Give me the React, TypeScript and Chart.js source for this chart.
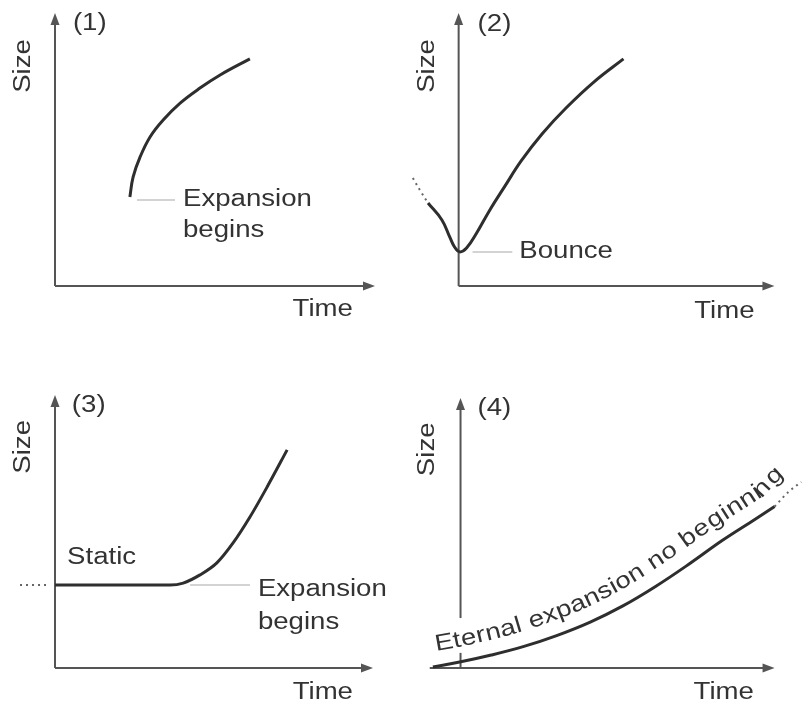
import React, { useEffect, useRef } from "react";
import { Chart, registerables } from "chart.js";

Chart.register(...registerables);

// ---------- data (time, size) in each panel's own units: axes run 0..10 ----------
// Panel 1: expansion with a beginning
const p1Time = [2.34, 2.44, 2.66, 2.97, 3.38, 3.91, 4.53, 5.16, 6.09];
const p1Size = [3.26, 3.99, 4.73, 5.46, 6.08, 6.7, 7.25, 7.73, 8.32];

// Panel 2: bounce
const p2PastTime = [-1.45, -1.23, -0.97];
const p2PastSize = [3.96, 3.52, 3.04];
const p2Time = [-0.97, -0.53, -0.28, -0.13, 0.03, 0.25, 0.57, 0.97, 1.45, 1.98, 2.64, 3.4, 4.28, 5.22];
const p2Size = [3.04, 2.42, 1.79, 1.43, 1.25, 1.39, 1.94, 2.75, 3.63, 4.58, 5.57, 6.52, 7.47, 8.32];

// Panel 3: static, then expansion
const p3PastTime = [-1.1, -0.16];
const p3PastSize = [3.04, 3.04];
const p3Time = [0, 1.5, 3.0, 3.62, 4.03, 4.56, 5.09, 5.6, 6.13, 6.67, 7.3];
const p3Size = [3.04, 3.04, 3.04, 3.04, 3.11, 3.41, 3.85, 4.58, 5.53, 6.63, 7.99];

// Panel 4: eternal expansion
const p4Time = [-0.88, -0.03, 0.98, 2.02, 3.06, 4.13, 5.17, 6.21, 7.29, 8.33, 9.37, 10.0];
const p4Size = [0.04, 0.22, 0.48, 0.8, 1.2, 1.7, 2.3, 3.02, 3.86, 4.72, 5.5, 5.98];
const p4FutureTime = [10.0, 10.44, 10.85];
const p4FutureSize = [5.98, 6.52, 6.89];

// ---------- text ----------
const panelTitles = ["(1)", "(2)", "(3)", "(4)"];
const yAxisLabel = "Size";
const xAxisLabel = "Time";
const expansionLabel = ["Expansion", "begins"];
const bounceLabel = "Bounce";
const staticLabel = "Static";
const eternalLabel = "Eternal expansion no beginning";

// ---------- style / layout ----------
const W = 806;
const H = 707;
const X_MIN = -1.6;
const X_MAX = 11;
const SX = 1.2;
const FONT = '23px "Liberation Sans", Arial, sans-serif';
const TEXT_COLOR = "#333";
const AXIS_COLOR = "#555";
const CURVE_COLOR = "#2e2e2e";
const LEADER_COLOR = "#c4c4c4";

// axis box of each panel: origin pixel and arrow tips (page pixels)
const boxes = [
  { ox: 55, oy: 286, tx: 375, ty: 13 },
  { ox: 459, oy: 286, tx: 777, ty: 13 },
  { ox: 55, oy: 668, tx: 373, ty: 395 },
  { ox: 461, oy: 668, tx: 778, ty: 398 },
];

function paddingFor(b: { ox: number; oy: number; tx: number; ty: number }) {
  const ux = (b.tx - b.ox) / 10;
  const left = b.ox + X_MIN * ux;
  const right = b.ox + X_MAX * ux;
  return { left, right: W - right, top: b.ty, bottom: H - b.oy };
}

const pts = (xs: number[], ys: number[]) => xs.map((x, i) => ({ x, y: ys[i] }));

const solid = (xs: number[], ys: number[], mono = false) => ({
  data: pts(xs, ys),
  borderColor: CURVE_COLOR,
  borderWidth: 3,
  pointRadius: 0,
  cubicInterpolationMode: mono ? "monotone" : "default",
  tension: 0.4,
  fill: false,
  clip: false,
});

const dotted = (xs: number[], ys: number[]) => ({
  data: pts(xs, ys),
  borderColor: "#666",
  borderWidth: 2,
  borderDash: [2, 4],
  pointRadius: 0,
  cubicInterpolationMode: "monotone",
  fill: false,
  clip: false,
});

function drawLabel(ctx: CanvasRenderingContext2D, text: string, x: number, y: number, align: CanvasTextAlign = "left", rot = 0) {
  ctx.save();
  ctx.translate(x, y);
  ctx.rotate(rot);
  ctx.scale(SX, 1);
  ctx.font = FONT;
  ctx.fillStyle = TEXT_COLOR;
  ctx.textBaseline = "middle";
  ctx.textAlign = align;
  ctx.fillText(text, 0, 0);
  ctx.restore();
}

function samplePath(chart: any, idxs: number[]) {
  const out: { x: number; y: number }[] = [];
  idxs.forEach((i) => {
    const els = chart.getDatasetMeta(i).data as any[];
    for (let k = 0; k < els.length - 1; k++) {
      const a = els[k];
      const b = els[k + 1];
      const c1x = a.cp2x ?? a.x, c1y = a.cp2y ?? a.y;
      const c2x = b.cp1x ?? b.x, c2y = b.cp1y ?? b.y;
      for (let s = 0; s <= 40; s++) {
        const t = s / 40, u = 1 - t;
        out.push({
          x: u * u * u * a.x + 3 * u * u * t * c1x + 3 * u * t * t * c2x + t * t * t * b.x,
          y: u * u * u * a.y + 3 * u * u * t * c1y + 3 * u * t * t * c2y + t * t * t * b.y,
        });
      }
    }
  });
  return out;
}

const diagramPlugin = {
  id: "diagram",
  beforeDatasetsDraw(chart: any, _a: any, opts: any) {
    const { ctx } = chart;
    const px = (v: number) => chart.scales.x.getPixelForValue(v);
    const py = (v: number) => chart.scales.y.getPixelForValue(v);
    ctx.save();
    ctx.strokeStyle = AXIS_COLOR;
    ctx.fillStyle = AXIS_COLOR;
    ctx.lineWidth = 2;
    const ox = px(0), oy = py(0);
    const tipX = px(10), tipY = py(10);
    const AL = 12, AW = 4.5;
    (opts.ySegments || [[0, 10]]).forEach((seg: number[]) => {
      ctx.beginPath();
      ctx.moveTo(ox, py(seg[0]));
      ctx.lineTo(ox, seg[1] >= 10 ? tipY + AL - 2 : py(seg[1]));
      ctx.stroke();
    });
    ctx.beginPath();
    ctx.moveTo(ox, tipY);
    ctx.lineTo(ox - AW, tipY + AL);
    ctx.lineTo(ox + AW, tipY + AL);
    ctx.closePath();
    ctx.fill();
    ctx.beginPath();
    ctx.moveTo(px(opts.xFrom ?? 0), oy);
    ctx.lineTo(tipX - AL + 2, oy);
    ctx.stroke();
    ctx.beginPath();
    ctx.moveTo(tipX, oy);
    ctx.lineTo(tipX - AL, oy - AW);
    ctx.lineTo(tipX - AL, oy + AW);
    ctx.closePath();
    ctx.fill();
    ctx.strokeStyle = LEADER_COLOR;
    ctx.lineWidth = 1.5;
    (opts.leaders || []).forEach((l: number[]) => {
      ctx.beginPath();
      ctx.moveTo(px(l[0]), py(l[2]));
      ctx.lineTo(px(l[1]), py(l[2]));
      ctx.stroke();
    });
    ctx.restore();
  },
  afterDatasetsDraw(chart: any, _a: any, opts: any) {
    const { ctx } = chart;
    const px = (v: number) => chart.scales.x.getPixelForValue(v);
    const py = (v: number) => chart.scales.y.getPixelForValue(v);
    (opts.texts || []).forEach((t: any) => {
      drawLabel(ctx, t.text, px(t.x), py(t.y), t.align || "left", t.rot || 0);
    });
    const ct = opts.curvedText;
    if (ct) {
      const path = samplePath(chart, ct.datasets);
      const cum = [0];
      for (let i = 1; i < path.length; i++) {
        cum.push(cum[i - 1] + Math.hypot(path[i].x - path[i - 1].x, path[i].y - path[i - 1].y));
      }
      const at = (s: number) => {
        let i = 1;
        while (i < cum.length - 1 && cum[i] < s) i++;
        const a = path[i - 1];
        let b = path[i];
        let j = i;
        while ((b.x - a.x) ** 2 + (b.y - a.y) ** 2 < 1e-6 && j < path.length - 1) { j++; b = path[j]; }
        const seg = cum[i] - cum[i - 1] || 1;
        const f = Math.min(1, Math.max(0, (s - cum[i - 1]) / seg));
        return { x: a.x + (path[i].x - a.x) * f, y: a.y + (path[i].y - a.y) * f, th: Math.atan2(b.y - a.y, b.x - a.x) };
      };
      ctx.save();
      ctx.font = FONT;
      ctx.fillStyle = TEXT_COLOR;
      ctx.textBaseline = "alphabetic";
      ctx.textAlign = "left";
      let s = ct.start;
      for (const ch of ct.text) {
        const w = ctx.measureText(ch).width * SX;
        const p = at(s + w / 2);
        const nx = Math.sin(p.th), ny = -Math.cos(p.th);
        ctx.save();
        ctx.translate(p.x + nx * ct.offset, p.y + ny * ct.offset);
        ctx.rotate(p.th);
        ctx.scale(SX, 1);
        ctx.fillText(ch, -w / SX / 2, 0);
        ctx.restore();
        s += w + ct.tracking;
      }
      ctx.restore();
    }
  },
};

function makeConfig(datasets: any[], padding: any, decor: any) {
  return {
    type: "line",
    data: { datasets },
    plugins: [diagramPlugin],
    options: {
      animation: false,
      responsive: false,
      events: [],
      layout: { padding },
      scales: {
        x: { type: "linear", min: X_MIN, max: X_MAX, display: false },
        y: { type: "linear", min: 0, max: 10, display: false },
      },
      plugins: {
        legend: { display: false },
        tooltip: { enabled: false },
        diagram: decor,
      },
    },
  } as any;
}

const UP = -Math.PI / 2;

const configs = [
  makeConfig([solid(p1Time, p1Size)], paddingFor(boxes[0]), {
    leaders: [[2.56, 3.75, 3.15]],
    texts: [
      { text: panelTitles[0], x: 0.56, y: 9.6 },
      { text: yAxisLabel, x: -0.98, y: 8.06, align: "center", rot: UP },
      { text: xAxisLabel, x: 9.31, y: -0.88, align: "right" },
      { text: expansionLabel[0], x: 4.0, y: 3.15 },
      { text: expansionLabel[1], x: 4.0, y: 2.01 },
    ],
  }),
  makeConfig([dotted(p2PastTime, p2PastSize), solid(p2Time, p2Size)], paddingFor(boxes[1]), {
    leaders: [[0.44, 1.7, 1.25]],
    texts: [
      { text: panelTitles[1], x: 0.6, y: 9.56 },
      { text: yAxisLabel, x: -0.97, y: 8.06, align: "center", rot: UP },
      { text: xAxisLabel, x: 9.37, y: -0.95, align: "right" },
      { text: bounceLabel, x: 1.92, y: 1.25 },
    ],
  }),
  makeConfig([dotted(p3PastTime, p3PastSize), solid(p3Time, p3Size, true)], paddingFor(boxes[2]), {
    leaders: [[4.25, 6.13, 3.04]],
    texts: [
      { text: panelTitles[2], x: 0.53, y: 9.6 },
      { text: yAxisLabel, x: -0.97, y: 8.1, align: "center", rot: UP },
      { text: xAxisLabel, x: 9.37, y: -0.92, align: "right" },
      { text: staticLabel, x: 0.38, y: 4.03 },
      { text: expansionLabel[0], x: 6.38, y: 2.86 },
      { text: expansionLabel[1], x: 6.38, y: 1.65 },
    ],
  }),
  makeConfig([solid(p4Time, p4Size), dotted(p4FutureTime, p4FutureSize)], paddingFor(boxes[3]), {
    xFrom: -0.98,
    ySegments: [[0, 0.56], [1.85, 10]],
    texts: [
      { text: panelTitles[3], x: 0.54, y: 9.6 },
      { text: yAxisLabel, x: -1.04, y: 8.1, align: "center", rot: UP },
      { text: xAxisLabel, x: 9.34, y: -0.93, align: "right" },
    ],
    curvedText: { text: eternalLabel, datasets: [0, 1], offset: 15, start: 6, tracking: 0.6 },
  }),
];

function Panel({ cfg }: any) {
  const ref = useRef<HTMLCanvasElement>(null);
  useEffect(() => {
    const chart = new Chart(ref.current as HTMLCanvasElement, cfg);
    return () => chart.destroy();
  }, [cfg]);
  return (
    <canvas
      ref={ref}
      width={W}
      height={H}
      style={{ position: "absolute", left: 0, top: 0, width: W, height: H }}
    />
  );
}

export default function App() {
  return (
    <div style={{ position: "absolute", left: 0, top: 0, width: W, height: H, background: "#fff", overflow: "hidden" }}>
      {configs.map((c, i) => (
        <Panel key={i} cfg={c} />
      ))}
    </div>
  );
}
